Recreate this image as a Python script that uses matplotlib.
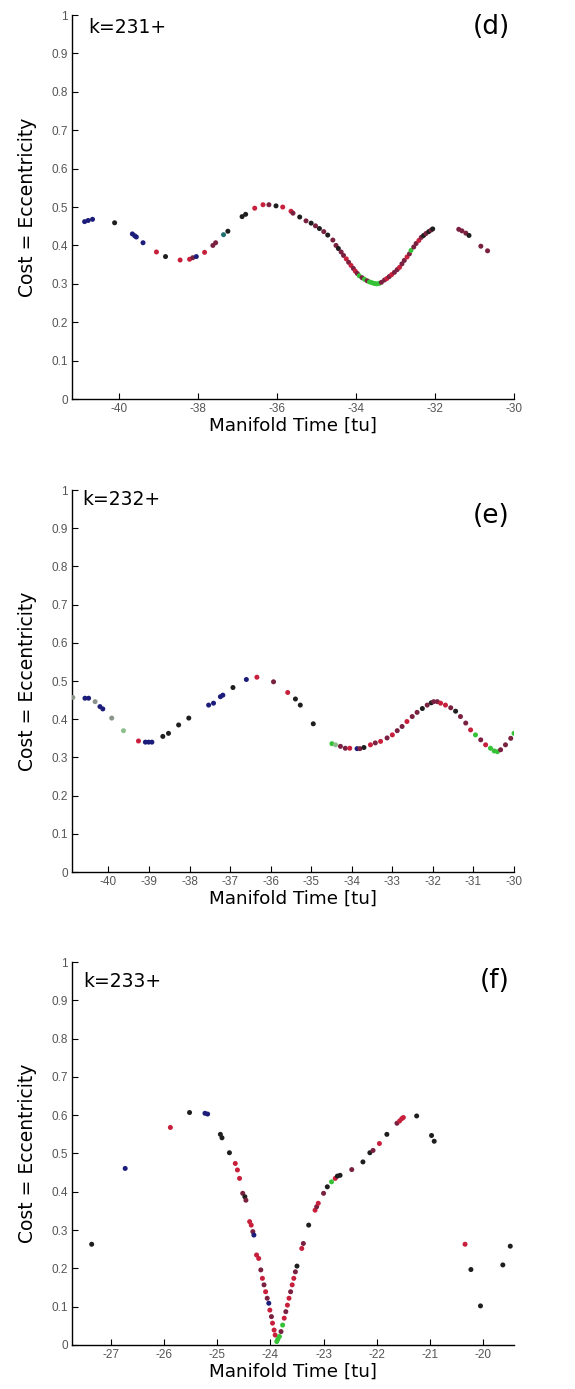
import numpy as np
import matplotlib
matplotlib.use("Agg")
import matplotlib.pyplot as plt

# colour codes used for the dots (MATLAB style scatter, several colour groups)
dot_colors = {
    "b": "#1c1c7a",  # navy
    "k": "#1e1e1e",  # black
    "r": "#c8203c",  # red
    "m": "#7a2040",  # dark maroon
    "g": "#36c236",  # green
    "t": "#1f6f70",  # teal
    "y": "#8a948a",  # grey
    "l": "#8cbf8c",  # light green
}

# ---- panel (d): k=231+
d_time = [-40.88, -40.79, -40.68, -40.12, -39.67, -39.61, -39.57, -39.40,
          -39.06, -38.83, -38.46, -38.22, -38.14, -38.05, -37.84, -37.63,
          -37.56, -37.36, -37.25, -36.89, -36.80, -36.57, -36.36, -36.21,
          -36.03, -35.86, -35.65, -35.60, -35.43, -35.27, -35.14, -35.03,
          -34.93, -34.82, -34.72, -34.59,
          -34.51, -34.45, -34.38, -34.32, -34.25, -34.19, -34.13, -34.07,
          -34.02, -33.97, -33.92, -33.85, -33.79, -33.72, -33.66, -33.60,
          -33.54, -33.48, -33.42,
          -33.36, -33.28, -33.22, -33.16, -33.10, -33.03, -32.96, -32.90,
          -32.84, -32.78, -32.71, -32.65, -32.61, -32.54, -32.48, -32.41,
          -32.35, -32.29, -32.23, -32.16, -32.10, -32.06,
          -31.40, -31.32, -31.22, -31.14, -30.84, -30.67]
d_cost = [0.462, 0.465, 0.468, 0.459, 0.430, 0.425, 0.422, 0.407,
          0.383, 0.371, 0.362, 0.364, 0.368, 0.371, 0.382, 0.400,
          0.407, 0.428, 0.437, 0.475, 0.481, 0.497, 0.506, 0.506,
          0.503, 0.500, 0.489, 0.484, 0.474, 0.464, 0.458, 0.451,
          0.444, 0.436, 0.427, 0.414,
          0.400, 0.392, 0.383, 0.374, 0.365, 0.356, 0.348, 0.340,
          0.333, 0.327, 0.321, 0.316, 0.312, 0.308, 0.305, 0.303,
          0.301, 0.300, 0.301,
          0.304, 0.310, 0.314, 0.319, 0.324, 0.330, 0.337, 0.343,
          0.352, 0.361, 0.370, 0.378, 0.387, 0.396, 0.405, 0.413,
          0.421, 0.426, 0.431, 0.436, 0.440, 0.443,
          0.442, 0.438, 0.432, 0.426, 0.398, 0.386]
d_col = ("bbbkbbbbrkrrmbrmmtkkkrrmkrrmkmkmkmkm"
         "mkmmrmrmrmgmgmggggg"
         "mmrmrmmrmmrmgmmrmkmkmk"
         "mmmkmm")

# ---- panel (e): k=232+
e_time = [-40.88, -40.58, -40.49, -40.33, -40.21, -40.14, -39.92, -39.63,
          -39.26, -39.09, -39.01, -38.93, -38.66, -38.52, -38.27, -38.02,
          -37.53, -37.41, -37.24, -37.18, -36.93, -36.60, -36.34, -35.93,
          -35.58, -35.39, -35.27, -34.95,
          -34.49, -34.40, -34.28, -34.16, -34.05, -33.87, -33.80, -33.70,
          -33.54, -33.42, -33.29, -33.13, -33.00, -32.88, -32.76, -32.64,
          -32.51, -32.39, -32.26, -32.14, -32.04, -31.98, -31.89, -31.81,
          -31.69, -31.56, -31.44, -31.32, -31.19, -31.07, -30.95, -30.82,
          -30.70, -30.58, -30.49, -30.41, -30.33, -30.21, -30.08, -30.00]
e_cost = [0.457, 0.455, 0.455, 0.446, 0.433, 0.427, 0.403, 0.370,
          0.343, 0.340, 0.340, 0.340, 0.355, 0.363, 0.385, 0.403,
          0.437, 0.442, 0.459, 0.463, 0.483, 0.504, 0.510, 0.498,
          0.470, 0.453, 0.437, 0.388,
          0.336, 0.333, 0.329, 0.324, 0.324, 0.323, 0.323, 0.326,
          0.333, 0.338, 0.342, 0.351, 0.359, 0.370, 0.381, 0.394,
          0.407, 0.418, 0.428, 0.437, 0.443, 0.446, 0.446, 0.442,
          0.437, 0.430, 0.421, 0.407, 0.390, 0.372, 0.359, 0.346,
          0.333, 0.324, 0.317, 0.315, 0.320, 0.333, 0.350, 0.363]
e_col = ("ybbybbylrbbbkkkkbbbbkbrmrkkk"
         "glmmrbmk"
         "rmrmrmmrmmkmkmmrrmkmmrgmrgggmmmg")

# ---- panel (f): k=233+
f_time = [-27.36, -26.73, -25.88, -25.52, -25.23, -25.18, -24.94, -24.91,
          -24.77, -24.66, -24.62, -24.58, -24.52, -24.48, -24.46, -24.39,
          -24.36, -24.33, -24.31, -24.26, -24.22, -24.18, -24.15, -24.12,
          -24.09, -24.06, -24.03, -24.01, -23.98, -23.96, -23.93, -23.91,
          -23.88, -23.86, -23.83, -23.80, -23.77, -23.74, -23.71, -23.68,
          -23.65, -23.62, -23.59, -23.56, -23.53, -23.50, -23.41, -23.38,
          -23.28, -23.16, -23.13, -23.10, -23.00, -22.93, -22.85, -22.78,
          -22.74, -22.69, -22.47, -22.26, -22.13, -22.07, -21.95, -21.81,
          -21.62, -21.57, -21.53, -21.50, -21.25, -20.97, -20.92, -20.34,
          -20.23, -20.05, -19.63, -19.49]
f_cost = [0.263, 0.461, 0.568, 0.607, 0.605, 0.603, 0.550, 0.541,
          0.502, 0.474, 0.457, 0.435, 0.396, 0.387, 0.378, 0.322,
          0.313, 0.296, 0.287, 0.235, 0.226, 0.196, 0.174, 0.157,
          0.139, 0.122, 0.109, 0.091, 0.074, 0.057, 0.039, 0.026,
          0.009, 0.015, 0.022, 0.035, 0.052, 0.070, 0.087, 0.104,
          0.122, 0.139, 0.157, 0.174, 0.191, 0.206, 0.252, 0.265,
          0.313, 0.352, 0.361, 0.370, 0.396, 0.413, 0.426, 0.435,
          0.441, 0.443, 0.458, 0.478, 0.502, 0.508, 0.526, 0.550,
          0.579, 0.585, 0.591, 0.594, 0.598, 0.547, 0.532, 0.263,
          0.197, 0.102, 0.209, 0.258]
f_col = ("kbrkbbkkkrrrmkmrrmbrrmrmrmbrmrrrgggmgrmrrmrrmkrmkrmrmkgrkkmkkmrkmrrrkkkrkkkk")

y_ticks = np.arange(0, 1.01, 0.1)
y_labels = ["0", "0.1", "0.2", "0.3", "0.4", "0.5", "0.6", "0.7", "0.8", "0.9", "1"]

panels = [
    # data, axes rect, xlim, xticks, k text (x, y), tag, tag y
    (d_time, d_cost, d_col, [0.1252, 0.7127, 0.7687, 0.2765], (-41.2, -30.0),
     np.arange(-40, -29, 2), "k=231+", 0.036, 0.967, "(d)", 0.97),
    (e_time, e_cost, e_col, [0.1252, 0.3722, 0.7687, 0.2750], (-40.9, -30.0),
     np.arange(-40, -29, 1), "k=232+", 0.023, 0.976, "(e)", 0.932),
    (f_time, f_cost, f_col, [0.1252, 0.0317, 0.7687, 0.2757], (-27.73, -19.42),
     np.arange(-27, -19, 1), "k=233+", 0.025, 0.95, "(f)", 0.95),
]

fig = plt.figure(figsize=(5.75, 13.89), dpi=100)

for t, c, col, rect, xlim, xt, ktxt, kx, ky, tag, tag_y in panels:
    assert len(t) == len(c) == len(col)
    ax = fig.add_axes(rect)
    ax.scatter(t, c, c=[dot_colors[k] for k in col], s=13, marker="o",
               linewidths=0, zorder=3)
    ax.set_xlim(*xlim)
    ax.set_ylim(0, 1)
    ax.set_xticks(xt)
    ax.set_xticklabels([str(v) for v in xt])
    ax.set_yticks(y_ticks)
    ax.set_yticklabels(y_labels)
    ax.spines["top"].set_visible(False)
    ax.spines["right"].set_visible(False)
    ax.spines["left"].set_linewidth(1.0)
    ax.spines["bottom"].set_linewidth(1.0)
    ax.tick_params(direction="in", length=4, width=0.8, pad=3,
                   labelsize=8.5, labelcolor="#555555")
    for lab in ax.get_xticklabels() + ax.get_yticklabels():
        lab.set_family("Liberation Sans")
    ax.set_xlabel("Manifold Time [tu]", fontsize=13.2, labelpad=1)
    ax.set_ylabel("Cost = Eccentricity", fontsize=13.5, labelpad=10)
    ax.text(kx, ky, ktxt, transform=ax.transAxes, fontsize=13.5,
            ha="left", va="center")
    ax.text(0.99, tag_y, tag, transform=ax.transAxes, fontsize=19,
            ha="right", va="center")

fig.savefig("out.png", dpi=100)
